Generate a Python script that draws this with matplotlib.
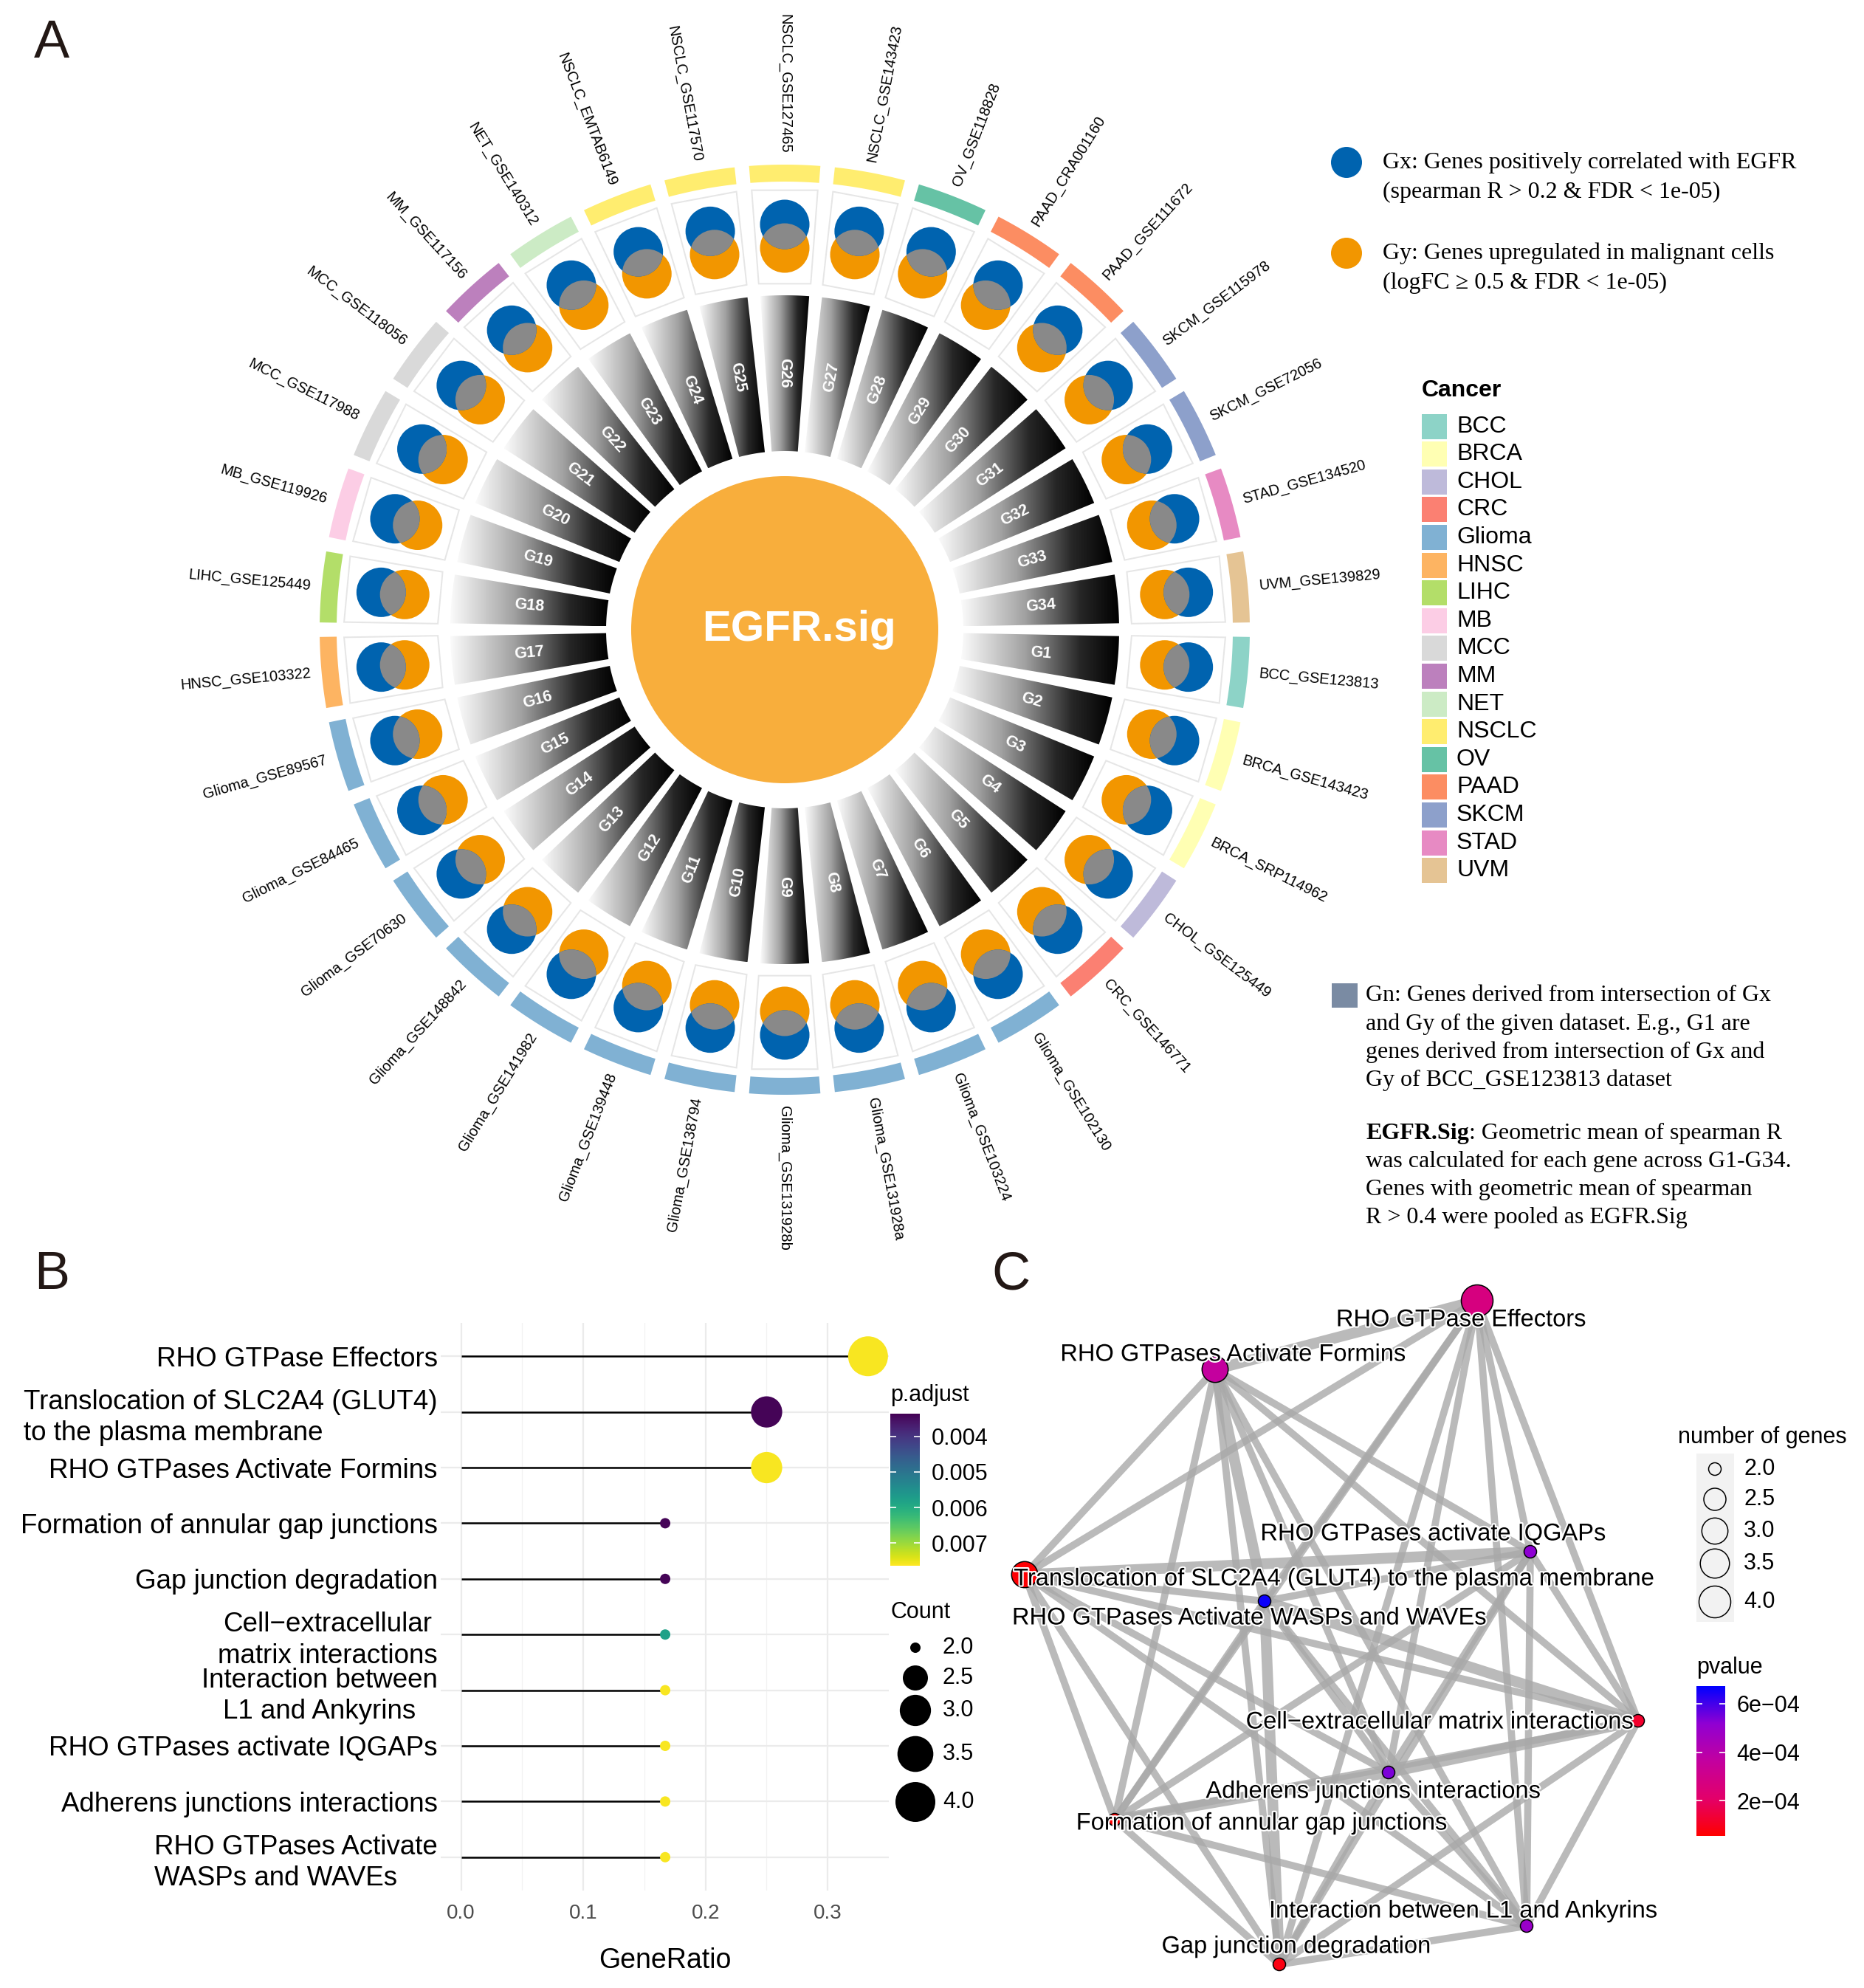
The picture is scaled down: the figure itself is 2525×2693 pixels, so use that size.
import numpy as np
import matplotlib
matplotlib.use("Agg")
import matplotlib.pyplot as plt
import matplotlib.patheffects as pe
from matplotlib.patches import Circle, Polygon, Rectangle
from matplotlib.colors import LinearSegmentedColormap, Normalize
from matplotlib.cm import ScalarMappable
from itertools import combinations

plt.rcParams['font.family'] = ['Liberation Sans', 'DejaVu Sans']
SERIF = ['Liberation Serif', 'DejaVu Serif']

W, H, DPI = 2525, 2693, 100
PT = 72 / DPI  # points per pixel

# ---------------- panel A data ----------------
DATASETS = [
    "BCC_GSE123813", "BRCA_GSE143423", "BRCA_SRP114962", "CHOL_GSE125449",
    "CRC_GSE146771", "Glioma_GSE102130", "Glioma_GSE103224", "Glioma_GSE131928a",
    "Glioma_GSE131928b", "Glioma_GSE138794", "Glioma_GSE139448", "Glioma_GSE141982",
    "Glioma_GSE148842", "Glioma_GSE70630", "Glioma_GSE84465", "Glioma_GSE89567",
    "HNSC_GSE103322", "LIHC_GSE125449", "MB_GSE119926", "MCC_GSE117988",
    "MCC_GSE118056", "MM_GSE117156", "NET_GSE140312", "NSCLC_EMTAB6149",
    "NSCLC_GSE117570", "NSCLC_GSE127465", "NSCLC_GSE143423", "OV_GSE118828",
    "PAAD_CRA001160", "PAAD_GSE111672", "SKCM_GSE115978", "SKCM_GSE72056",
    "STAD_GSE134520", "UVM_GSE139829",
]
GENE_SETS = ["G%d" % i for i in range(1, 35)]
CANCERS = ["BCC", "BRCA", "CHOL", "CRC", "Glioma", "HNSC", "LIHC", "MB", "MCC",
           "MM", "NET", "NSCLC", "OV", "PAAD", "SKCM", "STAD", "UVM"]
CANCER_COLORS = ["#8DD3C7", "#FFFFB3", "#BEBADA", "#FB8072", "#80B1D3", "#FDB462",
                 "#B3DE69", "#FCCDE5", "#D9D9D9", "#BC80BD", "#CCEBC5", "#FFED6F",
                 "#66C2A5", "#FC8D62", "#8DA0CB", "#E78AC3", "#E5C494"]

GX_TEXT = ["Gx: Genes positively correlated with EGFR", "(spearman R > 0.2 & FDR < 1e-05)"]
GY_TEXT = ["Gy: Genes upregulated in malignant cells", "(logFC \u2265 0.5 & FDR < 1e-05)"]
GN_TEXT = ["Gn: Genes derived from intersection of Gx",
           "and Gy of the given dataset. E.g., G1 are",
           "genes derived from intersection of Gx and",
           "Gy of BCC_GSE123813 dataset"]
SIG_TEXT = [": Geometric mean of spearman R",
            "was calculated for each gene across G1-G34.",
            "Genes with geometric mean of spearman",
            "R > 0.4 were pooled as EGFR.Sig"]

# ---------------- panel B data ----------------
TERMS_B = ["RHO GTPase Effectors",
           "Translocation of SLC2A4 (GLUT4)\nto the plasma membrane",
           "RHO GTPases Activate Formins",
           "Formation of annular gap junctions",
           "Gap junction degradation",
           "Cell\u2212extracellular\nmatrix interactions",
           "Interaction between\nL1 and Ankyrins",
           "RHO GTPases activate IQGAPs",
           "Adherens junctions interactions",
           "RHO GTPases Activate\nWASPs and WAVEs"]
ALIGN_B = ["right", "left", "right", "right", "right", "center", "center", "right", "right", "left"]
RATIO_B = [0.333, 0.25, 0.25, 0.167, 0.167, 0.167, 0.167, 0.167, 0.167, 0.167]
COUNT_B = [4, 3, 3, 2, 2, 2, 2, 2, 2, 2]
PADJ_B = [0.0076, 0.0034, 0.0076, 0.0034, 0.0034, 0.0058, 0.0076, 0.0076, 0.0076, 0.0076]

# ---------------- panel C data ----------------
NODES_C = ["RHO GTPase Effectors", "RHO GTPases Activate Formins",
           "Translocation of SLC2A4 (GLUT4) to the plasma membrane",
           "RHO GTPases activate IQGAPs", "RHO GTPases Activate WASPs and WAVEs",
           "Cell\u2212extracellular matrix interactions", "Adherens junctions interactions",
           "Formation of annular gap junctions", "Interaction between L1 and Ankyrins",
           "Gap junction degradation"]
COUNT_C = [4, 3, 3, 2, 2, 2, 2, 2, 2, 2]
PVAL_C = [2.7e-4, 3.6e-4, 6e-5, 5.2e-4, 6.6e-4, 1.2e-4, 5.4e-4, 6e-5, 4.9e-4, 8e-5]
# graph layout coordinates
NODE_X = [2001, 1646, 1388, 2073, 1713, 2219, 1881, 1510, 2068, 1733]
NODE_Y = [1762, 1855, 2133, 2102, 2169, 2331, 2401, 2465, 2609, 2661]
LABEL_X = [1979, 1670, 1807, 1941, 1692, 1950, 1860, 1709, 1982, 1756]
LABEL_Y = [1788, 1835, 2139, 2078, 2192, 2333, 2427, 2470, 2589, 2637]
STRONG_EDGES = [(0, 1), (2, 3), (5, 6), (6, 7), (4, 9), (4, 5), (1, 4)]


def frac(x0, y0, x1, y1):
    return [x0 / W, 1 - y1 / H, (x1 - x0) / W, (y1 - y0) / H]


def sector(r0, r1, a0, a1, n=60):
    a = np.radians(np.linspace(a0, a1, n))
    return np.vstack([np.c_[r1 * np.cos(a), r1 * np.sin(a)],
                      np.c_[r0 * np.cos(a[::-1]), r0 * np.sin(a[::-1])]])


def radial_rotation(theta):
    t = round(((theta + 180) % 360) - 180, 6)
    if -90 <= t < 90:
        return t, 'left'
    return t + 180, 'right'


fig = plt.figure(figsize=(W / DPI, H / DPI), dpi=DPI)
fig.patch.set_facecolor('white')

# ================= panel A =================
CX, CY = 1063, 853
axa = fig.add_axes([0, 0, 1, 1])
axa.axis('off')

SEG = 360 / len(DATASETS)
BLUE, ORANGE, OVERLAP = "#0063AF", "#F29600", "#898989"
bar_cmap = LinearSegmentedColormap.from_list(
    "bar", [(0, "#FBFBFB"), (0.4, "#A2A2A2"), (0.75, "#272727"), (1, "#000000")])
grad = np.linspace(0, 1, 256).reshape(1, -1)
cancer_of = dict(zip(CANCERS, CANCER_COLORS))

axa.add_patch(Circle((0, 0), 208, facecolor="#F8AE3C", edgecolor='none', zorder=2))
axa.text(19, 0, "EGFR.sig", color='white', fontsize=42, fontweight='bold',
         ha='center', va='center', zorder=3)

for k, (name, gs) in enumerate(zip(DATASETS, GENE_SETS)):
    theta = -(k + 0.5) * SEG
    ux, uy = np.cos(np.radians(theta)), np.sin(np.radians(theta))

    # gradient bar
    pts = sector(242, 453, theta - SEG / 2 + 1.1, theta + SEG / 2 - 1.1)
    poly = Polygon(pts, closed=True, facecolor='none', edgecolor='none')
    axa.add_patch(poly)
    im = axa.imshow(grad, cmap=bar_cmap, aspect='auto', interpolation='bilinear',
                    extent=[pts[:, 0].min(), pts[:, 0].max(), pts[:, 1].min(), pts[:, 1].max()],
                    zorder=2)
    im.set_clip_path(poly)
    rot, _ = radial_rotation(theta)
    axa.text(348 * ux, 348 * uy, gs, color='white', fontsize=15.5, fontweight='bold',
             rotation=rot, rotation_mode='anchor', ha='center', va='center', zorder=3)

    # venn box
    axa.add_patch(Polygon(sector(470, 597, theta - 4.3, theta + 4.3, n=2), closed=True,
                          facecolor='white', edgecolor='#E6E6E6', lw=2 * PT, zorder=2))
    oc = (517 * ux, 517 * uy)
    bc = (549 * ux, 549 * uy)
    orange = Circle(oc, 33.5, facecolor=ORANGE, edgecolor='none', zorder=3)
    blue = Circle(bc, 33.5, facecolor=BLUE, edgecolor='none', zorder=3)
    both = Circle(bc, 33.5, facecolor=OVERLAP, edgecolor='none', zorder=4)
    axa.add_patch(orange)
    axa.add_patch(blue)
    axa.add_patch(both)
    both.set_clip_path(orange)

    # cancer arc
    axa.add_patch(Polygon(sector(607, 630, theta - 4.4, theta + 4.4), closed=True,
                          facecolor=cancer_of[name.split('_')[0]], edgecolor='none', zorder=2))

    # dataset label
    rot, ha = radial_rotation(theta)
    axa.text(645 * ux, 645 * uy, name, fontsize=14.5, rotation=rot, rotation_mode='anchor',
             ha=ha, va='center', zorder=3)

axa.set_xlim(-CX, W - CX)
axa.set_ylim(-(H - CY), CY)

# ================= overlay (legends, letters) =================
ov = fig.add_axes([0, 0, 1, 1], zorder=5)
ov.set_xlim(0, W)
ov.set_ylim(H, 0)
ov.axis('off')

for letter, x, y in [("A", 46, 60), ("B", 46, 1728), ("C", 1343, 1728)]:
    ov.text(x, y, letter, fontsize=52, ha='left', va='center', color='#231815')

for color, lines, y0 in [(BLUE, GX_TEXT, 220), (ORANGE, GY_TEXT, 343)]:
    ov.add_patch(Circle((1824, y0), 21, facecolor=color, edgecolor='none'))
    for i, line in enumerate(lines):
        ov.text(1873, y0 + 40 * i, line, family=SERIF, fontsize=23, ha='left', va='center')

ov.text(1926, 529, "Cancer", fontsize=23, fontweight='bold', ha='left', va='center')
for i, (c, col) in enumerate(zip(CANCERS, CANCER_COLORS)):
    yc = 577.5 + 37.6 * i
    ov.add_patch(Rectangle((1926, yc - 17), 34, 34, facecolor=col, edgecolor='none'))
    ov.text(1973, yc, c, fontsize=23, ha='left', va='center')

ov.add_patch(Rectangle((1804, 1332), 35, 33, facecolor='#7A8BA3', edgecolor='none'))
for i, line in enumerate(GN_TEXT):
    ov.text(1850, 1349 + 38 * i, line, family=SERIF, fontsize=23, ha='left', va='center')
t_sig = ov.text(1850, 1535, "EGFR.Sig", family=SERIF, fontsize=23, fontweight='bold',
                ha='left', va='center')
ov.annotate(SIG_TEXT[0], xy=(1, 0.5), xycoords=t_sig, family=SERIF, fontsize=23,
            ha='left', va='center')
for i, line in enumerate(SIG_TEXT[1:]):
    ov.text(1850, 1573 + 38 * i, line, family=SERIF, fontsize=23, ha='left', va='center')

# ================= panel B =================
def dot_px(count, lo, hi):
    return lo + (hi - lo) * np.sqrt((np.asarray(count, float) - 2) / 2)


axb = fig.add_axes(frac(597, 1792, 1204, 2561))
rows = np.arange(1, len(TERMS_B) + 1)
norm_b = Normalize(0.00336, 0.00764)
axb.hlines(rows, 0, RATIO_B, color='black', lw=1.8, zorder=2)
axb.scatter(RATIO_B, rows, s=(dot_px(COUNT_B, 14, 54) * PT) ** 2, c=PADJ_B, cmap='viridis',
            norm=norm_b, edgecolors='none', zorder=3, clip_on=False)
axb.set_xlim(-0.01667, 0.35)
axb.set_ylim(10.6, 0.4)
axb.set_xticks([0, 0.1, 0.2, 0.3])
axb.set_xticklabels(["0.0", "0.1", "0.2", "0.3"])
axb.set_xticks([0.05, 0.15, 0.25], minor=True)
axb.set_yticks(rows)
axb.set_yticklabels(TERMS_B, fontsize=26.5, linespacing=1.28)
for lab, al in zip(axb.get_yticklabels(), ALIGN_B):
    lab.set_multialignment(al)
axb.grid(which='major', color='#EBEBEB', lw=1.6)
axb.grid(which='minor', axis='x', color='#F2F2F2', lw=0.9)
axb.set_axisbelow(True)
for s in axb.spines.values():
    s.set_visible(False)
axb.tick_params(which='both', length=0)
axb.tick_params(axis='x', labelsize=20, labelcolor='#4D4D4D', pad=13)
axb.tick_params(axis='y', pad=3, labelcolor='black')
axb.text(0.5, -0.1235, "GeneRatio", transform=axb.transAxes, fontsize=27,
         ha='center', va='center')

ov.text(1206, 1890, "p.adjust", fontsize=22, ha='left', va='center')
cax_b = fig.add_axes(frac(1206, 1915, 1246, 2121))
cb_b = fig.colorbar(ScalarMappable(norm=norm_b, cmap='viridis'), cax=cax_b)
cb_b.outline.set_visible(False)
cb_b.set_ticks([0.004, 0.005, 0.006, 0.007])
cb_b.set_ticklabels(["0.004", "0.005", "0.006", "0.007"])
cax_b.invert_yaxis()
cax_b.tick_params(axis='y', left=True, right=True, direction='in', length=6, width=1.2,
                  color='white', labelsize=22, pad=11)

ov.text(1206, 2184, "Count", fontsize=22, ha='left', va='center')
legend_counts = [2.0, 2.5, 3.0, 3.5, 4.0]
legend_y_b = [2232, 2273, 2317, 2376, 2441]
ov.scatter([1240] * 5, legend_y_b, s=(dot_px(legend_counts, 14, 54) * PT) ** 2,
           color='black', edgecolors='none')
for v, y in zip(legend_counts, legend_y_b):
    ov.text(1277, y, "%.1f" % v, fontsize=22, ha='left', va='center')

# ================= panel C =================
pv_cmap = LinearSegmentedColormap.from_list(
    "pv", [(0, "#FF0000"), (0.25, "#E3006A"), (0.5, "#C3009F"), (0.75, "#9000D2"), (1, "#0000FF")])
norm_c = Normalize(5.4e-5, 6.73e-4)

axc = fig.add_axes(frac(1340, 1720, 2260, 2693), zorder=3)
axc.set_xlim(1340, 2260)
axc.set_ylim(2693, 1720)
axc.axis('off')

strong = set(STRONG_EDGES)
for i, j in combinations(range(len(NODES_C)), 2):
    lw = 10.5 if (i, j) in strong else 7.0
    axc.plot([NODE_X[i], NODE_X[j]], [NODE_Y[i], NODE_Y[j]], color='#A9A9A9', alpha=0.8,
             lw=lw, solid_capstyle='butt', zorder=1, clip_on=False)
axc.scatter(NODE_X, NODE_Y, s=(dot_px(COUNT_C, 17, 43) * PT) ** 2, c=PVAL_C, cmap=pv_cmap,
            norm=norm_c, edgecolors='black', linewidths=1.1, zorder=2, clip_on=False)
for name, x, y in zip(NODES_C, LABEL_X, LABEL_Y):
    axc.text(x, y, name, fontsize=23.5, ha='center', va='center', zorder=3, clip_on=False,
             path_effects=[pe.withStroke(linewidth=3, foreground='white')])

ov.text(2273, 1947, "number of genes", fontsize=22, ha='left', va='center')
ov.add_patch(Rectangle((2298, 1969), 51, 228, facecolor='#F2F2F2', edgecolor='none'))
legend_y_c = [1990, 2031, 2074, 2118, 2170]
ov.scatter([2323] * 5, legend_y_c, s=(dot_px(legend_counts, 17, 43) * PT) ** 2,
           facecolors='none', edgecolors='black', linewidths=1.1)
for v, y in zip(legend_counts, legend_y_c):
    ov.text(2362, y, "%.1f" % v, fontsize=22, ha='left', va='center')

ov.text(2298, 2259, "pvalue", fontsize=22, ha='left', va='center')
cax_c = fig.add_axes(frac(2298, 2284, 2337, 2487))
cb_c = fig.colorbar(ScalarMappable(norm=norm_c, cmap=pv_cmap), cax=cax_c)
cb_c.outline.set_visible(False)
cb_c.set_ticks([2e-4, 4e-4, 6e-4])
cb_c.set_ticklabels(["2e\u221204", "4e\u221204", "6e\u221204"])
cax_c.tick_params(axis='y', left=True, right=True, direction='in', length=6, width=1.2,
                  color='white', labelsize=22, pad=11)

fig.savefig("out.png", dpi=DPI, facecolor='white')
